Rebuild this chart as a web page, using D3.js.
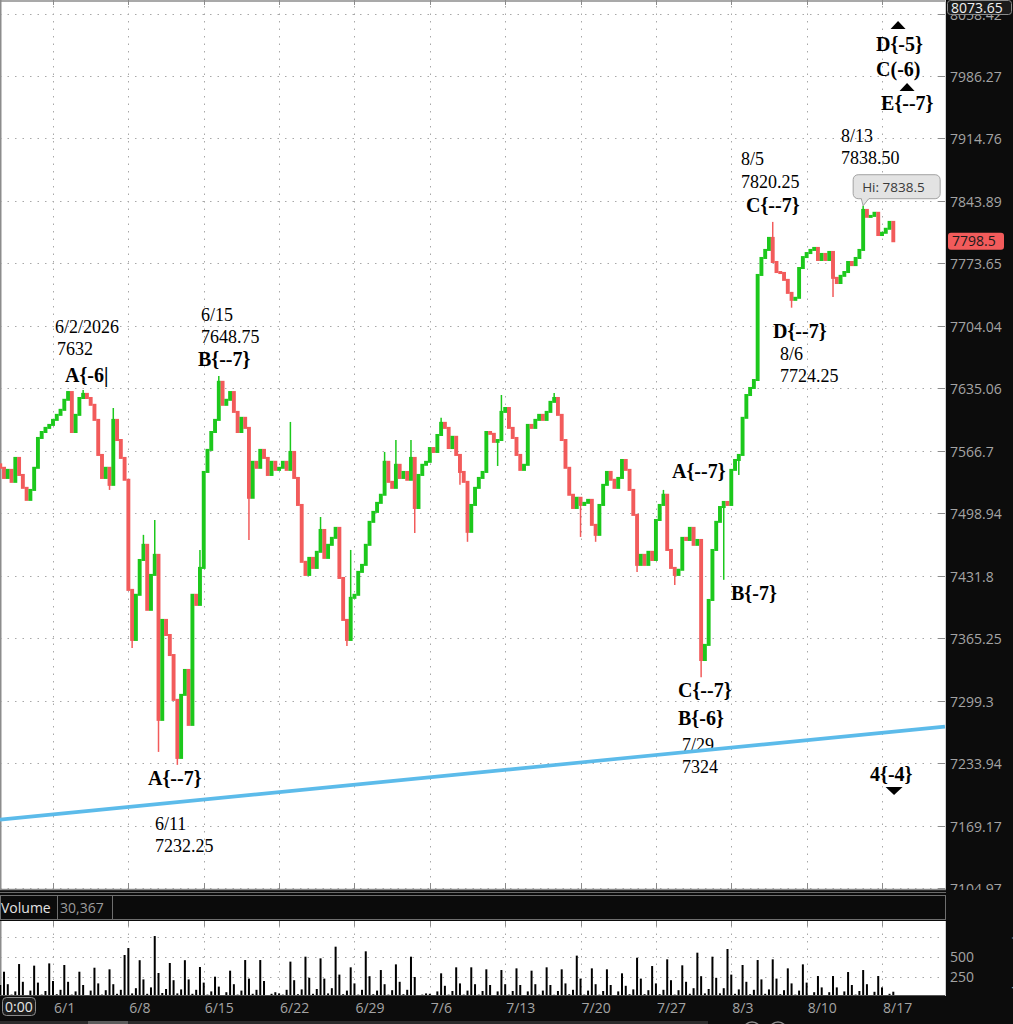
<!DOCTYPE html>
<html>
<head>
<meta charset="utf-8">
<script src="https://cdn.jsdelivr.net/npm/d3@7"></script>
<style>
  body { margin: 0; background: #fff; overflow: hidden; }
  svg { display: block; }
  .ann { font-family: "Liberation Serif", "Times New Roman", serif; fill: #000; }
  .axl { font-family: "Open Sans", "Noto Sans", sans-serif; font-size: 14px; fill: #a4a4a4; }
</style>
</head>
<body>
<svg id="chart" width="1013" height="1024"></svg>
<script>
// ---- data ----
// bar index 0 = start of the 6/1 week, 4 bars per trading day, 20 per week
const weekLabels = ['6/1', '6/8', '6/15', '6/22', '6/29', '7/6', '7/13', '7/20', '7/27', '8/3', '8/10', '8/17'];
const weekStart = [0, 20, 40, 60, 80, 100, 120, 140, 160, 180, 200, 220];

const firstBar = -14;
const firstOpen = 7552;
const closes = [
  7548.25, 7537.25, 7546.0, 7533.0, 7559.0, 7540.5, 7526.5, 7513.5, 7524.25, 7548.25, 7580.75, 7587.25, 7591.75, 7595.0,
  7600.5, 7606.0, 7611.5, 7622.5, 7631.0, 7587.25, 7606.0, 7624.5, 7629.0, 7624.5, 7617.0, 7600.5, 7562.25, 7537.25, 7548.25, 7529.75, 7600.5, 7578.5, 7559.0, 7535.25,
  7416.75, 7363.5, 7411.5, 7448.75, 7465.0, 7395.5, 7432.75, 7454.25, 7279.25, 7384.75, 7368.75, 7347.5, 7300.25, 7239.5, 7305.5, 7331.75, 7274.0, 7411.5, 7400.75, 7440.25,
  7543.75, 7567.75, 7587.25, 7600.5, 7642.25, 7617.0, 7622.5, 7631.0, 7609.25, 7587.25, 7602.75, 7591.75, 7515.75, 7554.75, 7548.25, 7567.75, 7559.0, 7540.5, 7554.75, 7546.0,
  7548.25, 7554.75, 7546.0, 7565.5, 7537.25, 7508.0, 7446.75, 7432.75, 7451.0, 7440.25, 7457.5, 7481.0, 7451.0, 7465.0, 7472.5, 7483.25, 7429.5, 7384.75, 7363.5, 7408.25,
  7411.5, 7436.0, 7443.5, 7465.0, 7489.75, 7500.5, 7510.25, 7519.0, 7554.75, 7533.0, 7526.5, 7551.5, 7537.25, 7543.75, 7535.25, 7559.0, 7504.75, 7540.5, 7551.5, 7554.75,
  7569.75, 7565.5, 7584.0, 7597.25, 7591.75, 7569.75, 7582.0, 7562.25, 7543.75, 7533.0, 7479.0, 7508.0, 7526.5, 7537.25, 7543.75, 7587.25, 7585.25, 7576.5, 7578.5, 7609.25,
  7613.5, 7591.75, 7580.75, 7562.25, 7546.0, 7551.5, 7595.0, 7591.75, 7600.5, 7606.0, 7600.5, 7609.25, 7620.25, 7624.5, 7606.0, 7578.5, 7548.25, 7519.0, 7504.75, 7515.75,
  7508.0, 7510.25, 7513.5, 7486.5, 7475.75, 7508.0, 7529.75, 7543.75, 7535.25, 7526.5, 7537.25, 7556.75, 7546.0, 7524.25, 7497.25, 7443.5, 7454.25, 7443.5, 7457.5, 7448.75,
  7491.75, 7508.0, 7519.0, 7459.5, 7440.25, 7432.75, 7438.25, 7472.5, 7470.25, 7483.25, 7465.0, 7470.25, 7342.25, 7358.25, 7406.0, 7459.5, 7489.75, 7505.75, 7511.25, 7508.0,
  7546.0, 7556.75, 7562.25, 7602.75, 7627.75, 7635.5, 7644.25, 7760.75, 7779.75, 7788.75, 7802.25, 7775.25, 7764.0, 7763.0, 7755.25, 7740.75, 7733.0, 7735.25, 7768.5, 7780.75,
  7785.25, 7788.75, 7791.0, 7777.5, 7784.25, 7777.5, 7786.5, 7757.5, 7751.75, 7759.75, 7764.0, 7775.25, 7771.75, 7779.75, 7788.75, 7833.75, 7826.0, 7827.0, 7830.5, 7805.5,
  7808.0, 7812.5, 7820.25, 7798.5
];

// [bar index, high, low] for the bars with long wicks
const wicks = [
  [4, 7632, null], [8, 7633.25, null], [15, null, 7524.25], [16, 7613.5, null], [21, null, 7355.0],
  [24, 7475.75, null], [27, 7491.75, null], [28, null, 7245.75], [33, null, 7232.25], [39, 7459.5, null],
  [44, 7648.75, null], [52, null, 7470.25], [63, 7598.25, null], [71, 7495.0, null], [78, null, 7357.0],
  [79, 7459.5, null], [88, 7565.5, null], [91, 7578.5, null], [95, 7578.5, null], [96, null, 7477.75],
  [103, 7602.75, null], [108, null, 7529.75], [110, null, 7468.25], [118, null, 7550.25], [119, 7627.75, null],
  [133, 7630.0, null], [140, null, 7473.5], [144, null, 7468.25], [155, null, 7436.0], [162, 7524.25, null],
  [165, null, 7422.0], [172, null, 7324.0], [178, null, 7427.5], [182, null, 7540.5], [191, 7820.25, null],
  [196, null, 7724.25], [207, null, 7736.25], [215, 7838.5, null]
];

const volumes = [
  150, 316,
  160, 30, 70, 412,  190, 25, 80, 392,  180, 30, 75, 420,
  200, 35, 90, 400,  190, 30, 70, 316,  150, 25, 80, 366,  170, 30, 85, 346,  160, 40, 90, 525,
  612, 45, 110, 460,  220, 40, 120, 762,  300, 50, 100, 425,  210, 45, 95, 460,  220, 40, 90, 375,
  180, 30, 70, 254,  130, 25, 60, 329,  160, 30, 80, 462,  230, 40, 90, 462,  200, 25, 40, 60,
  45, 30, 90, 442,  210, 35, 95, 504,  240, 40, 100, 483,  230, 45, 110, 629,  280, 35, 80, 371,
  170, 30, 90, 571,  260, 35, 80, 337,  160, 30, 85, 408,  190, 35, 90, 504,  250, 20, 30, 45,
  40, 25, 70, 296,  140, 30, 75, 371,  170, 30, 80, 371,  160, 30, 75, 346,  150, 25, 70, 337,
  160, 30, 75, 358,  150, 25, 70, 329,  160, 30, 80, 371,  150, 28, 75, 346,  170, 35, 90, 517,
  230, 30, 80, 358,  160, 30, 75, 346,  150, 25, 70, 296,  140, 35, 95, 491,  230, 35, 85, 387,
  170, 35, 90, 471,  210, 30, 85, 396,  190, 40, 110, 554,  260, 45, 100, 504,  240, 45, 110, 600,
  280, 40, 95, 400,  190, 35, 90, 462,  220, 40, 95, 471,  230, 35, 85, 358,  170, 30, 80, 408,
  180, 25, 60, 262,  120, 25, 60, 262,  120, 25, 70, 312,  150, 30, 75, 337,  160, 25, 65, 262,
  120, 25, 40, 66
];

const priceTicks = [8058.42, 7986.27, 7914.76, 7843.89, 7773.65, 7704.04, 7635.06, 7566.7,
  7498.94, 7431.8, 7365.25, 7299.3, 7233.94, 7169.17, 7104.97];
const volGrid = [250, 500, 750];
const volLabels = [250, 500];

// trend line anchors [bar index, price]
const trend = [[-14.07, 7175.5], [236.7, 7272.2]];

// wave notes [text, bar index, price, bold]
const notes = [
  ['6/2/2026', 0.53, 7696.3, false], ['7632', 1.06, 7672.0, false], ['A{-6|', 3.18, 7642.1, true],
  ['6/15', 39.28, 7709.6, false], ['7648.75', 39.28, 7685.25, false], ['B{--7}', 38.48, 7659.8, true],
  ['A{--7}', 25.21, 7211.4, true], ['6/11', 27.07, 7164.7, false], ['7232.25', 27.07, 7142.1, false],
  ['C{--7}', 165.87, 7303.3, true], ['B{-6}', 165.87, 7274.0, true], ['7/29', 166.93, 7246.8, false],
  ['7324', 166.93, 7223.9, false], ['A{--7}', 164.28, 7537.3, true], ['B{-7}', 179.94, 7406.1, true],
  ['8/5', 182.59, 7884.7, false], ['7820.25', 182.59, 7858.6, false], ['C{--7}', 183.92, 7831.5, true],
  ['D{--7}', 191.08, 7690.8, true], ['8/6', 192.94, 7666.5, false], ['7724.25', 192.94, 7642.1, false],
  ['8/13', 209.13, 7910.8, false], ['7838.50', 209.13, 7885.8, false],
  ['D{-5}', 218.42, 8015.1, true], ['C(-6)', 218.42, 7986.27, true], ['E{--7}', 219.75, 7947.4, true],
  ['4{-4}', 216.83, 7215.6, true]
];
// triangles [bar index, price, direction]
const arrows = [[224.26, 8045.1, 'up'], [226.65, 7973.7, 'up'], [223.2, 7205.2, 'down']];

const hiMark = { i: 215, p: 7838.5, text: 'Hi: 7838.5' };
const lastPrice = 7798.5;
const topPrice = '8073.65';
const volumeTotal = '30,367';

// ---- layout ----
const plotRight = 945;
const priceBottom = 889;
const volTop = 921, volBottom = 996;
const green = '#1cc81c', red = '#f25b5b';

const svg = d3.select('#chart');

const x = d3.scaleLinear().domain([0, 220]).range([53, 882]);
const y = d3.scaleLog().domain([7104.97, 8058.42]).range([888.2, 13.5]);
const yv = d3.scaleLinear().domain([0, 500]).range([997, 957]);

const defs = svg.append('defs');
defs.append('clipPath').attr('id', 'priceClip')
  .append('rect').attr('x', 0).attr('y', 0).attr('width', plotRight).attr('height', priceBottom);
defs.append('clipPath').attr('id', 'axisClip')
  .append('rect').attr('x', plotRight).attr('y', 0).attr('width', 80).attr('height', 890);

// white panels
svg.append('rect').attr('width', 1013).attr('height', 1024).attr('fill', '#fff');

function drawGrid() {
  const g = svg.append('g').attr('stroke', '#a8a8a8').attr('stroke-dasharray', '1.5,6').attr('stroke-width', 1);
  // horizontal price grid
  g.selectAll('.hg').data(priceTicks).enter().append('line')
    .attr('x1', 0).attr('x2', plotRight - 6)
    .attr('y1', d => Math.round(y(d)) + 0.5).attr('y2', d => Math.round(y(d)) + 0.5);
  // vertical week grid, price + volume panels
  weekStart.forEach(i => {
    const xx = Math.round(x(i)) + 0.5;
    g.append('line').attr('x1', xx).attr('x2', xx).attr('y1', 6).attr('y2', priceBottom - 6);
    g.append('line').attr('x1', xx).attr('x2', xx).attr('y1', volTop + 5).attr('y2', volBottom);
  });
  // volume grid
  g.selectAll('.vg').data(volGrid).enter().append('line')
    .attr('x1', 0).attr('x2', plotRight)
    .attr('y1', d => Math.round(yv(d)) + 0.5).attr('y2', d => Math.round(yv(d)) + 0.5);

  // solid tick marks on the panel edges
  const t = svg.append('g').attr('stroke', '#8c8c8c').attr('stroke-width', 1);
  weekStart.forEach(i => {
    const xx = Math.round(x(i)) + 0.5;
    t.append('line').attr('x1', xx).attr('x2', xx).attr('y1', 0).attr('y2', 5);
    t.append('line').attr('x1', xx).attr('x2', xx).attr('y1', priceBottom - 6).attr('y2', priceBottom);
    t.append('line').attr('x1', xx).attr('x2', xx).attr('y1', volTop).attr('y2', volTop + 5);
  });
  priceTicks.forEach(p => {
    const yy = Math.round(y(p)) + 0.5;
    t.append('line').attr('x1', plotRight - 7).attr('x2', plotRight).attr('y1', yy).attr('y2', yy);
  });
  // panel borders
  t.append('line').attr('x1', 0).attr('x2', plotRight).attr('y1', 1).attr('y2', 1).attr('stroke-width', 1.5);
  t.append('line').attr('x1', 0.75).attr('x2', 0.75).attr('y1', 0).attr('y2', priceBottom).attr('stroke-width', 1.5);
  t.append('line').attr('x1', 0.75).attr('x2', 0.75).attr('y1', volTop).attr('y2', volBottom).attr('stroke-width', 1.5);
}

function drawPrice() {
  const wickMap = new Map(wicks.map(w => [w[0], w]));
  const bars = closes.map((c, k) => {
    const i = firstBar + k;
    const o = k === 0 ? firstOpen : closes[k - 1];
    const w = wickMap.get(i);
    return {
      i, o, c,
      hi: w && w[1] != null ? w[1] : Math.max(o, c),
      lo: w && w[2] != null ? w[2] : Math.min(o, c)
    };
  });

  const g = svg.append('g').attr('clip-path', 'url(#priceClip)');

  g.selectAll('.wick').data(bars.filter(b => wickMap.has(b.i))).enter().append('line')
    .attr('x1', d => x(d.i)).attr('x2', d => x(d.i))
    .attr('y1', d => y(d.hi)).attr('y2', d => y(d.lo))
    .attr('stroke', d => d.c >= d.o ? green : red)
    .attr('stroke-width', 1.5);

  // bodies run from the previous close to this close, drawn wide enough to touch
  g.selectAll('.body').data(bars).enter().append('rect')
    .attr('x', d => x(d.i) - 1.95)
    .attr('width', 3.9)
    .attr('y', d => y(Math.max(d.o, d.c)) - 1)
    .attr('height', d => Math.max(3, Math.abs(y(d.o) - y(d.c)) + 2))
    .attr('fill', d => d.c >= d.o ? green : red);

  return bars;
}

function drawNotes() {
  const g = svg.append('g').attr('clip-path', 'url(#priceClip)');
  g.selectAll('.note').data(notes).enter().append('text')
    .attr('class', 'ann')
    .attr('x', d => x(d[1]))
    .attr('y', d => y(d[2]))
    .style('font-size', d => d[3] ? '20px' : '18px')
    .style('font-weight', d => d[3] ? 'bold' : 'normal')
    .text(d => d[0]);

  g.selectAll('.arrow').data(arrows).enter().append('path')
    .attr('transform', d => `translate(${x(d[0])},${y(d[1])})`)
    .attr('d', d => d[2] === 'up' ? 'M-7.5,4 L7.5,4 L0,-4 Z' : 'M-8.5,-4 L8.5,-4 L0,4 Z')
    .attr('fill', '#000');

  // trend line
  g.append('path')
    .datum(trend)
    .attr('d', d3.line().x(d => x(d[0])).y(d => y(d[1])))
    .attr('stroke', '#5cbbea')
    .attr('stroke-width', 3.6)
    .attr('fill', 'none');

  // high bubble
  const hx = x(hiMark.i), hy = y(hiMark.p);
  const hb = svg.append('g');
  hb.append('rect')
    .attr('x', hx - 10).attr('y', hy - 31).attr('width', 87).attr('height', 24).attr('rx', 5)
    .attr('fill', '#e3e3e3').attr('stroke', '#a2a2a2');
  hb.append('path')
    .attr('d', `M${hx - 2},${hy - 7.5} L${hx},${hy} L${hx + 6},${hy - 7.5}`)
    .attr('fill', '#e3e3e3').attr('stroke', '#a2a2a2');
  hb.append('line')
    .attr('x1', hx - 1.5).attr('x2', hx + 5.5).attr('y1', hy - 7.5).attr('y2', hy - 7.5)
    .attr('stroke', '#e3e3e3').attr('stroke-width', 1.5);
  hb.append('text')
    .attr('class', 'axl').style('fill', '#3a3a3a').style('font-size', '13.5px')
    .attr('x', hx - 1).attr('y', hy - 14)
    .text(hiMark.text);
}

function drawVolume() {
  const data = volumes.map((v, k) => ({ i: firstBar + k, v }));
  svg.append('g').selectAll('rect').data(data).enter().append('rect')
    .attr('x', d => x(d.i) - 1)
    .attr('width', 2)
    .attr('y', d => yv(d.v))
    .attr('height', d => yv(0) - yv(d.v))
    .attr('fill', '#000');
}

function drawFrame() {
  // dark right axis and bottom axis
  svg.append('rect').attr('x', plotRight + 1).attr('y', 0).attr('width', 1013 - plotRight).attr('height', 1024).attr('fill', '#0c0c0c');
  svg.append('line').attr('x1', plotRight + 0.5).attr('x2', plotRight + 0.5).attr('y1', 0).attr('y2', volBottom)
    .attr('stroke', '#cfcfcf');
  svg.append('rect').attr('x', 0).attr('y', volBottom).attr('width', 1013).attr('height', 1024 - volBottom).attr('fill', '#0c0c0c');

  // separator between price and volume
  svg.append('rect').attr('x', 0).attr('y', priceBottom).attr('width', plotRight + 1).attr('height', volTop - priceBottom).attr('fill', '#0b0b0b');
  svg.append('line').attr('x1', 0).attr('x2', plotRight + 1).attr('y1', priceBottom + 0.5).attr('y2', priceBottom + 0.5).attr('stroke', '#8a8a8a').attr('stroke-width', 1.5);
  svg.append('line').attr('x1', 0).attr('x2', plotRight + 1).attr('y1', priceBottom + 3.5).attr('y2', priceBottom + 3.5).attr('stroke', '#6a6a6a');
  svg.append('rect').attr('x', 0.5).attr('y', 895.5).attr('width', plotRight).attr('height', 24).attr('fill', '#0b0b0b').attr('stroke', '#6e6e6e');
  svg.append('line').attr('x1', 57.5).attr('x2', 57.5).attr('y1', 896).attr('y2', 920).attr('stroke', '#6e6e6e');
  svg.append('line').attr('x1', 112.5).attr('x2', 112.5).attr('y1', 896).attr('y2', 920).attr('stroke', '#6e6e6e');
  svg.append('text').attr('class', 'axl').style('fill', '#e2e2e2').attr('x', 1).attr('y', 913).text('Volume');
  svg.append('text').attr('class', 'axl').style('fill', '#9c9c9c').attr('x', 60).attr('y', 913).text(volumeTotal);
  svg.append('line').attr('x1', 0).attr('x2', plotRight).attr('y1', volBottom - 0.5).attr('y2', volBottom - 0.5).attr('stroke', '#555');

  // price axis labels
  const ax = svg.append('g').attr('clip-path', 'url(#axisClip)');
  ax.selectAll('text').data(priceTicks).enter().append('text')
    .attr('class', 'axl')
    .attr('x', 950).attr('y', d => y(d) + 6)
    .text(d => d);

  // current top value box
  svg.append('rect').attr('x', 947.5).attr('y', 0.5).attr('width', 64).attr('height', 14).attr('rx', 3)
    .attr('fill', '#1b1b1b').attr('stroke', '#8a8a8a');
  svg.append('text').attr('class', 'axl').style('fill', '#f0f0f0').attr('x', 951).attr('y', 12.5).text(topPrice);

  // last price box
  const ly = y(lastPrice);
  svg.append('rect').attr('x', 948).attr('y', ly - 8.5).attr('width', 56).attr('height', 17).attr('rx', 3).attr('fill', red);
  svg.append('text').attr('class', 'axl').style('fill', '#1a1a1a').attr('x', 952).attr('y', ly + 5).text(lastPrice);

  // volume axis labels
  svg.selectAll('.vl').data(volLabels).enter().append('text')
    .attr('class', 'axl').attr('x', 950).attr('y', d => yv(d) + 5).text(d => d);
  svg.append('text').attr('class', 'axl').style('font-size', '13px').style('fill', '#9a9a9a')
    .attr('text-anchor', 'middle')
    .attr('transform', 'translate(1022,962) rotate(-90)')
    .text('thousands');

  // date axis
  svg.selectAll('.dl').data(weekLabels).enter().append('text')
    .attr('class', 'axl')
    .attr('x', (d, k) => x(weekStart[k]) + 1)
    .attr('y', 1013)
    .text(d => d);
  svg.append('rect').attr('x', 2.5).attr('y', 997.5).attr('width', 33).attr('height', 18).attr('rx', 4)
    .attr('fill', '#1d1d1d').attr('stroke', '#8a8a8a');
  svg.append('text').attr('class', 'axl').style('fill', '#e6e6e6').attr('x', 5).attr('y', 1012).text('0:00');

  // scroll bar strip
  svg.append('rect').attr('x', 0).attr('y', 1021).attr('width', 708).attr('height', 3).attr('fill', '#2c2c2c');
  svg.append('rect').attr('x', 88).attr('y', 1021).attr('width', 40).attr('height', 3).attr('fill', '#5c5c5c');
  [752, 778].forEach(cx => {
    svg.append('circle').attr('cx', cx).attr('cy', 1031).attr('r', 9).attr('fill', 'none').attr('stroke', '#8a8a8a').attr('stroke-width', 1.5);
  });
}

drawGrid();
drawVolume();
drawPrice();
drawNotes();
drawFrame();

if (closes.length !== volumes.length) console.warn('length mismatch', closes.length, volumes.length);
</script>
</body>
</html>
